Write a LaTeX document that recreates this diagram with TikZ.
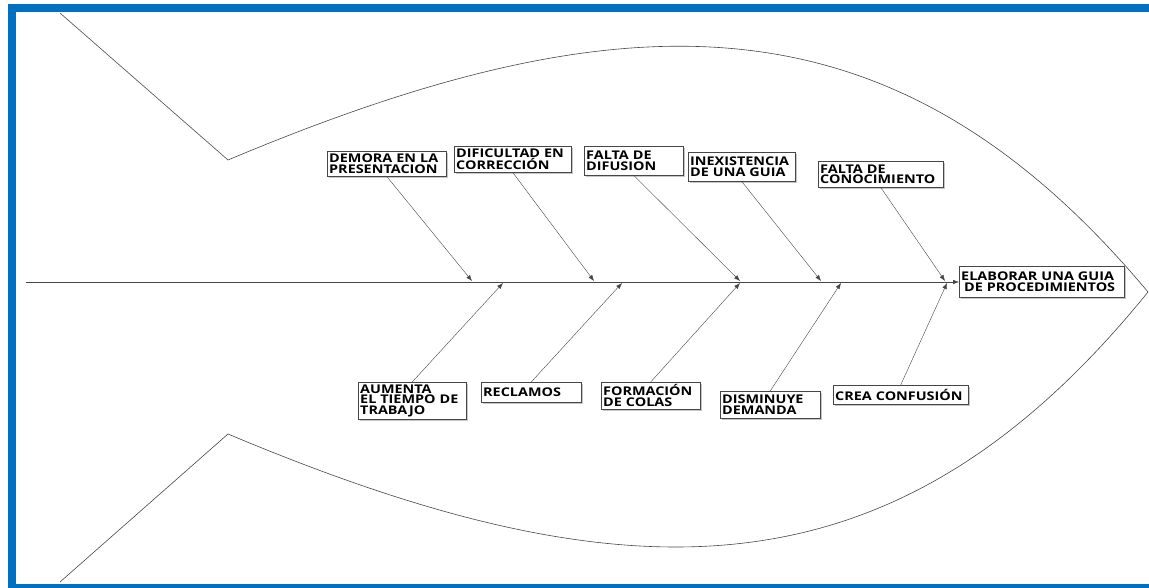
\documentclass[tikz,border=0pt]{standalone}
\usepackage{fontspec}
\usepackage{xcolor}
\usetikzlibrary{arrows.meta, shadows}
\newfontfamily\fishfont[FakeStretch=1.2]{Open Sans}
\definecolor{frameblue}{RGB}{0,112,192}
\definecolor{linegray}{RGB}{70,70,70}

\begin{document}
\begin{tikzpicture}[x=1pt, y=-1pt,
        font=\fishfont\bfseries\fontsize{12}{10.5}\selectfont,
        box/.style={draw=linegray, fill=white, anchor=north west, align=left,
                    inner xsep=2pt, inner ysep=0.5pt,
                    drop shadow={shadow xshift=1.5pt, shadow yshift=-1.5pt, fill=black!22, opacity=1}},
        arr/.style={draw=linegray, -{Latex[length=6pt, width=4.5pt]}},
        fish/.style={draw=linegray, line width=0.6pt}]
      \useasboundingbox (0,0) rectangle (1149,588);
      % frame
      \fill[frameblue] (8,4) rectangle (16,588);
      \fill[frameblue] (8,4) rectangle (1149,12);
      \fill[frameblue] (8,584) rectangle (1149,588);
      % fish outline
      \draw[fish] (60,13) -- (228,160)
          .. controls (630,-9) and (896,-9) .. (1148,292)
          .. controls (896,603) and (630,603) .. (228,434) -- (60,582);
      % causes and effect
      \node[box, text width=115pt, minimum height=25pt] (demora) at (327,151) {DEMORA EN LA\\PRESENTACION};
      \node[box, text width=113pt, minimum height=26pt] (dificultad) at (454,146) {DIFICULTAD EN\\CORRECCIÓN};
      \node[box, text width=95pt, minimum height=29pt] (difusion) at (584,146) {FALTA DE\\DIFUSION};
      \node[box, text width=103pt, minimum height=29pt] (inexistencia) at (688,152) {INEXISTENCIA\\DE UNA GUIA};
      \node[box, text width=121pt, minimum height=26pt] (conocimiento) at (818,161) {FALTA DE\\CONOCIMIENTO};
      \node[box, text width=161pt, minimum height=31pt] (guia) at (959,266) {ELABORAR UNA GUIA\\\hspace{3pt}DE PROCEDIMIENTOS};
      \node[box, text width=104pt, minimum height=37pt] (aumenta) at (358,382) {AUMENTA\\EL TIEMPO DE\\TRABAJO};
      \node[box, text width=96pt, minimum height=20pt] (reclamos) at (481,382) {RECLAMOS};
      \node[box, text width=95pt, minimum height=27pt] (colas) at (601,382) {FORMACIÓN\\DE COLAS};
      \node[box, text width=96pt, minimum height=27pt] (demanda) at (720,391) {DISMINUYE\\DEMANDA};
      \node[box, text width=131pt, minimum height=19pt] (confusion) at (833,385) {CREA CONFUSIÓN};
      % spine
      \coordinate (tail) at (26,282);
      \draw[arr] (tail) -- (guia.west |- tail);
      % bones
      \coordinate (s1) at (472,281);
      \coordinate (s2) at (594,281);
      \coordinate (s3) at (740,281);
      \coordinate (s4) at (821,281);
      \coordinate (s5) at (945,281);
      \coordinate (b1) at (503,283);
      \coordinate (b2) at (622,283);
      \coordinate (b3) at (740,283);
      \coordinate (b4) at (841,283);
      \coordinate (b5) at (947,283);
      \draw[arr] (demora.south) -- (s1);
      \draw[arr] (dificultad.south) -- (s2);
      \draw[arr] (difusion.south) -- (s3);
      \draw[arr] (inexistencia.south) -- (s4);
      \draw[arr] (conocimiento.south) -- (s5);
      \draw[arr] (aumenta.north) -- (b1);
      \draw[arr] (reclamos.north) -- (b2);
      \draw[arr] (colas.north) -- (b3);
      \draw[arr] (demanda.north) -- (b4);
      \draw[arr] (confusion.north) -- (b5);
    \end{tikzpicture}
\end{document}
